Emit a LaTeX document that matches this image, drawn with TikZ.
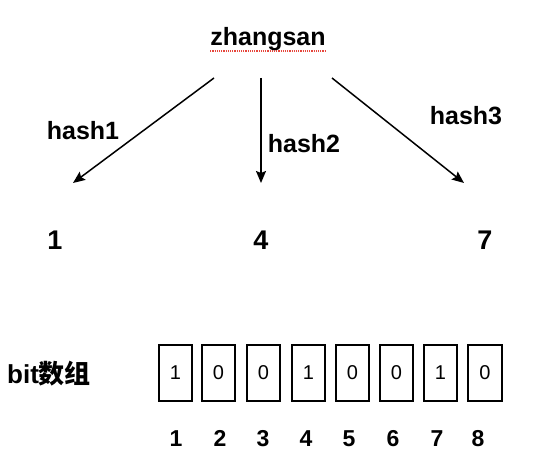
\documentclass[tikz,border=0pt]{standalone}
\usepackage{fontspec}
\setmainfont{Liberation Sans}
\newfontfamily\cjk{Noto Sans CJK SC}
\usetikzlibrary{arrows.meta}
\definecolor{spell}{RGB}{230,70,60}
\begin{document}
\begin{tikzpicture}[x=1pt,y=-1pt,
  lbl/.style={font=\bfseries\fontsize{25}{25}\selectfont, inner sep=0pt, anchor=base},
  big/.style={font=\bfseries\fontsize{27}{27}\selectfont, inner sep=0pt, anchor=base},
  idx/.style={font=\bfseries\fontsize{23}{23}\selectfont, inner sep=0pt, anchor=base},
  cell/.style={draw, line width=2pt, minimum width=33.5pt, minimum height=56.5pt, inner sep=0pt, font=\fontsize{20}{20}\selectfont},
  arr/.style={line width=1.5pt, -{Stealth[length=12pt,width=10pt,inset=2pt]}}]
\useasboundingbox (0,0) rectangle (554,462);
% source
\node[lbl] (zs) at (268,46) {zhangsan};
\draw[spell, line width=1.3pt, dash pattern=on 1.2pt off 1pt]
  ([yshift=-5pt]zs.base west) -- ([yshift=-5pt]zs.base east);
% hash labels
\node[lbl] (h1) at (83,140) {hash1};
\node[lbl] (h2) at (304,153) {hash2};
\node[lbl] (h3) at (466,125) {hash3};
% targets
\node[big] (t1) at (55,250) {1};
\node[big] (t4) at (261,250) {4};
\node[big] (t7) at (485,250) {7};
% arrow end points
\coordinate (s1) at (214,78);
\coordinate (e1) at (73,183);
\coordinate (s2) at (261,78);
\coordinate (e2) at (261,183);
\coordinate (s3) at (332,78);
\coordinate (e3) at (464,183);
\draw[arr] (s1) -- (e1);
\draw[arr] (s2) -- (e2);
\draw[arr] (s3) -- (e3);
% bit array
\node[lbl, anchor=base west, font=\bfseries\fontsize{26}{26}\selectfont] (bit) at (7,383) {bit{\cjk\bfseries 数组}};
\foreach \i/\x/\v in {1/175.5/1,2/218.5/0,3/263.5/0,4/308.5/1,5/352.5/0,6/396.5/0,7/440.5/1,8/485/0}{
  \node[cell] (c\i) at (\x,373) {\v};
}
\foreach \i/\x in {1/176,2/220,3/263,4/306,5/349,6/393,7/437,8/478}{
  \node[idx] (n\i) at (\x,446) {\i};
}
\end{tikzpicture}
\end{document}
